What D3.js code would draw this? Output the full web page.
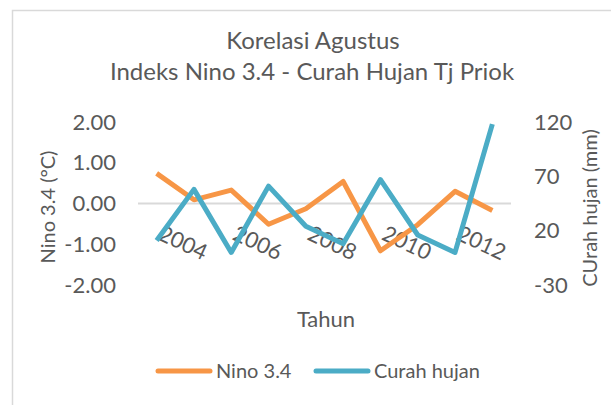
<!DOCTYPE html>
<html>
<head>
<meta charset="utf-8">
<script src="https://cdn.jsdelivr.net/npm/d3@7"></script>
<style>
  body { margin: 0; background: #fff; }
  svg text { font-family: Lato, "Open Sans", sans-serif; fill: #595959; }
</style>
</head>
<body>
<div id="chart"></div>
<script>
var width = 611;
var height = 405;

// data
var years = [2004, 2005, 2006, 2007, 2008, 2009, 2010, 2011, 2012, 2013];
var nino = [0.74, 0.09, 0.33, -0.51, -0.13, 0.54, -1.16, -0.52, 0.30, -0.17];
var hujan = [11, 58, 0, 61, 24, 8, 67, 16, 0, 118];
var leftTicks = [-2, -1, 0, 1, 2];
var rightTicks = [-30, 20, 70, 120];
var labelYears = [2004, 2006, 2008, 2010, 2012];

var orange = "#f79646";
var blue = "#4bacc6";

function createSVG() {
  return d3.select("#chart").append("svg")
    .attr("width", width)
    .attr("height", height);
}

function main() {
  var svg = createSVG();

  // chart frame (runs off the right and bottom edge)
  svg.append("rect")
    .attr("x", 12.5).attr("y", 10.5)
    .attr("width", 640).attr("height", 420)
    .attr("fill", "none")
    .attr("stroke", "#d9d9d9")
    .attr("stroke-width", 1.5);

  var x = d3.scalePoint().domain(years).range([138, 511]).padding(0.5);
  var yL = d3.scaleLinear().domain([-2, 2]).range([285, 122]);
  var yR = d3.scaleLinear().domain([-30, 120]).range([285, 122]);

  // titles
  svg.append("text").attr("x", 313).attr("y", 49)
    .attr("text-anchor", "middle").style("font-size", "24px")
    .text("Korelasi Agustus");
  svg.append("text").attr("x", 312).attr("y", 80)
    .attr("text-anchor", "middle").style("font-size", "24px")
    .text("Indeks Nino 3.4 - Curah Hujan Tj Priok");

  // zero line
  svg.append("line")
    .attr("x1", 138).attr("x2", 511)
    .attr("y1", yL(0)).attr("y2", yL(0))
    .attr("stroke", "#d9d9d9").attr("stroke-width", 2);

  // left axis (hyphen minus like the original)
  var gl = svg.append("g").attr("transform", "translate(116,0)")
    .call(d3.axisLeft(yL).tickValues(leftTicks)
      .tickFormat(function(d) { return d.toFixed(2); })
      .tickSize(0).tickPadding(0));
  gl.select(".domain").remove();
  gl.selectAll("text").style("font-size", "22px").attr("font-family", null).attr("fill", null);

  // right axis
  var gr = svg.append("g").attr("transform", "translate(534,0)")
    .call(d3.axisRight(yR).tickValues(rightTicks)
      .tickFormat(function(d) { return String(d); })
      .tickSize(0).tickPadding(0));
  gr.select(".domain").remove();
  gr.selectAll("text").style("font-size", "22px").attr("font-family", null).attr("fill", null);

  // x labels, every other year, rotated
  svg.selectAll(".xlab")
    .data(labelYears)
    .enter()
    .append("text")
    .attr("class", "xlab")
    .attr("transform", function(d) { return "translate(" + (x(d) + 7) + "," + 224 + ") rotate(25)"; })
    .attr("dy", "0.75em")
    .style("font-size", "22px")
    .text(function(d) { return d; });

  // axis titles
  svg.append("text")
    .attr("transform", "translate(55,207) rotate(-90)")
    .attr("text-anchor", "middle").style("font-size", "20px")
    .text("Nino 3.4 (°C)");
  svg.append("text")
    .attr("transform", "translate(597,208) rotate(-90)")
    .attr("text-anchor", "middle").style("font-size", "20px")
    .text("CUrah hujan (mm)");
  svg.append("text").attr("x", 326).attr("y", 327)
    .attr("text-anchor", "middle").style("font-size", "22px")
    .text("Tahun");

  // lines
  var lineL = d3.line().x(function(d, i) { return x(years[i]); }).y(function(d) { return yL(d); });
  var lineR = d3.line().x(function(d, i) { return x(years[i]); }).y(function(d) { return yR(d); });

  svg.append("path").datum(nino)
    .attr("d", lineL).attr("fill", "none")
    .attr("stroke", orange).attr("stroke-width", 5).attr("stroke-linejoin", "round");
  svg.append("path").datum(hujan)
    .attr("d", lineR).attr("fill", "none")
    .attr("stroke", blue).attr("stroke-width", 5).attr("stroke-linejoin", "round");

  // legend
  var legendData = [
    { text: "Nino 3.4", color: orange, x: 158 },
    { text: "Curah hujan", color: blue, x: 316 }
  ];
  var legend = svg.append("g");
  legend.selectAll("line")
    .data(legendData)
    .enter()
    .append("line")
    .attr("x1", function(d) { return d.x; })
    .attr("x2", function(d) { return d.x + 52; })
    .attr("y1", 371).attr("y2", 371)
    .attr("stroke", function(d) { return d.color; })
    .attr("stroke-width", 5)
    .attr("stroke-linecap", "round");
  legend.selectAll("text")
    .data(legendData)
    .enter()
    .append("text")
    .attr("x", function(d) { return d.x + 58; })
    .attr("y", 378)
    .style("font-size", "20px")
    .text(function(d) { return d.text; });
}

window.onload = function() {
  main();
};
</script>
</body>
</html>
